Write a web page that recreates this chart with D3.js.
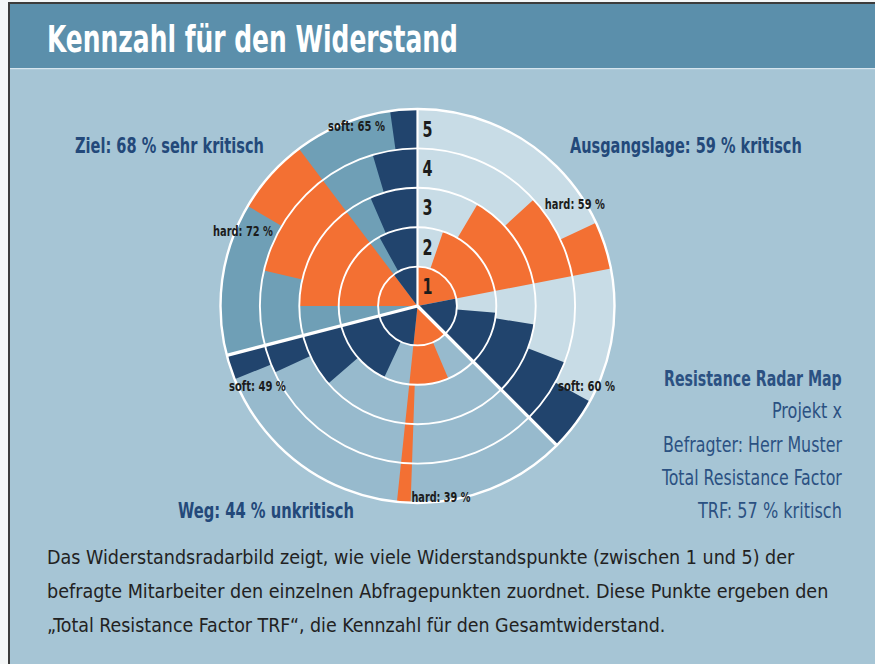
<!DOCTYPE html>
<html>
<head>
<meta charset="utf-8">
<script src="https://cdn.jsdelivr.net/npm/d3@7"></script>
<style>
  html, body { margin: 0; padding: 0; background: #ffffff; }
  svg { display: block; }
  text { font-family: "Liberation Sans Narrow", "DejaVu Sans Condensed", "Roboto", sans-serif; }
</style>
</head>
<body>
<svg id="chart" width="875" height="664"></svg>
<script>
// Survey phases around the radar, clockwise from twelve o'clock
const phases = ["Ausgangslage", "Weg", "Ziel"];
const phaseTitles = ["Ausgangslage: 59 % kritisch", "Weg: 44 % unkritisch", "Ziel: 68 % sehr kritisch"];

// Resistance points (1–5) per question and the share of the circle (degrees) each question takes
const hardScores  = [[1, 2, 3, 4, 5], [1, 2, 5], [3, 4, 5]];
const hardWeights = [[19, 11.5, 17, 17.5, 14], [22, 25, 4], [13, 17.5, 22.5]];
const softScores  = [[1, 2, 3, 4, 5], [1, 2, 3, 4, 5], [1, 2, 3, 4, 5]];
const softWeights = [[16, 4, 12, 8, 16], [19, 24, 16, 3.2, 7.3], [8, 5.5, 7, 8.5, 8]];
// Unscored share in front of a phase's hard block
const openWeights = [0, 0, 14.5];

const hardPercent = [59, 39, 72];
const softPercent = [60, 49, 65];
const scoreTicks  = [1, 2, 3, 4, 5];

const infoLines = ["Resistance Radar Map", "Projekt x", "Befragter: Herr Muster",
                   "Total Resistance Factor", "TRF: 57 % kritisch"];
const bodyLines = [
  "Das Widerstandsradarbild zeigt, wie viele Widerstandspunkte (zwischen 1 und 5) der",
  "befragte Mitarbeiter den einzelnen Abfragepunkten zuordnet. Diese Punkte ergeben den",
  "\u201eTotal Resistance Factor TRF\u201c, die Kennzahl f\u00fcr den Gesamtwiderstand."
];

// ---- styling ----
const C = {
  page: "#a6c5d5", header: "#5b8fab", frame: "#3c3c3c",
  phaseFill: ["#c8dce6", "#97bacd", "#6f9fb6"],
  hard: "#f37033", soft: "#21446d",
  title: "#23497a", info: "#2b5182", ink: "#1c1c1c"
};

const svg = d3.select("#chart");
const W = 875, H = 664;

// Writes a line of text whose left edge sits at x (or right edge, for anchor "end"),
// squeezed horizontally to the given width so the condensed look is kept.
function label(parent, { x, y, text, size, weight = "normal", fill, width, anchor = "start", dy = null }) {
  const t = parent.append("text")
    .attr("font-size", size).attr("font-weight", weight).attr("fill", fill)
    .text(text);
  if (dy) t.attr("dy", dy);
  const natural = t.node().getComputedTextLength();
  const sx = width / natural;
  const left = anchor === "end" ? x - width : anchor === "middle" ? x - width / 2 : x;
  t.attr("transform", `translate(${left},${y}) scale(${sx},1)`);
  return t;
}

// page, frame and header band
svg.append("rect").attr("x", 0).attr("y", 0).attr("width", W).attr("height", H).attr("fill", "#f4f6f7");
svg.append("rect").attr("x", 8).attr("y", 2).attr("width", W - 8).attr("height", H - 2).attr("fill", C.frame);
svg.append("rect").attr("x", 10).attr("y", 4).attr("width", W - 10).attr("height", H - 4).attr("fill", C.page);
svg.append("rect").attr("x", 10).attr("y", 4).attr("width", W - 10).attr("height", 64).attr("fill", C.header);
svg.append("rect").attr("x", 10).attr("y", 68).attr("width", W - 10).attr("height", 1.2).attr("fill", "#d6e5ee");
label(svg, { x: 47, y: 52, text: "Kennzahl f\u00fcr den Widerstand", size: 37, weight: "bold", fill: "#ffffff", width: 411 });

// ---- radar ----
const cx = 417.5, cy = 306, R = 197;
const rScale = d3.scaleLinear().domain([0, 5]).range([0, R]);

const totalWeight = d3.sum(phases.map((p, i) =>
  openWeights[i] + d3.sum(hardWeights[i]) + d3.sum(softWeights[i])));
const angle = d3.scaleLinear().domain([0, totalWeight]).range([0, 2 * Math.PI]);

// lay the questions out around the circle; each factor block becomes one stepped shape
const phaseSpans = [];
const blocks = [];
let cursor = 0;
phases.forEach((p, i) => {
  const start = cursor;
  cursor += openWeights[i];
  [["hard", hardScores[i], hardWeights[i]], ["soft", softScores[i], softWeights[i]]].forEach(([factor, scores, weights]) => {
    const steps = scores.map((s, k) => {
      const a0 = cursor;
      cursor += weights[k];
      return { score: s, a0, a1: cursor };
    });
    blocks.push({ phase: p, factor, steps });
  });
  phaseSpans.push({ phase: p, index: i, start, end: cursor });
});

const g = svg.append("g").attr("transform", `translate(${cx},${cy})`);

const arc = d3.arc();
g.selectAll("path.phase").data(phaseSpans).join("path")
  .attr("class", "phase")
  .attr("d", d => arc({ innerRadius: 0, outerRadius: R, startAngle: angle(d.start), endAngle: angle(d.end) }))
  .attr("fill", d => C.phaseFill[d.index]);

// one closed outline per block: out from the centre, along each question's arc, back in
function blockPath(steps) {
  const p = d3.path();
  p.moveTo(0, 0);
  steps.forEach(s => {
    p.arc(0, 0, rScale(s.score), angle(s.a0) - Math.PI / 2, angle(s.a1) - Math.PI / 2);
  });
  p.closePath();
  return p.toString();
}

g.selectAll("path.block").data(blocks).join("path")
  .attr("class", "block")
  .attr("d", d => blockPath(d.steps))
  .attr("fill", d => d.factor === "hard" ? C.hard : C.soft);

// score rings
g.selectAll("circle.ring").data(scoreTicks).join("circle")
  .attr("class", "ring")
  .attr("r", d => rScale(d))
  .attr("fill", "none")
  .attr("stroke", "#ffffff")
  .attr("stroke-width", d => d === 5 ? 2.4 : 1.9);

// phase dividers
const polar = (a, r) => [Math.sin(a) * r, -Math.cos(a) * r];
g.selectAll("line.divider").data(phaseSpans).join("line")
  .attr("class", "divider")
  .attr("x1", 0).attr("y1", 0)
  .attr("x2", d => polar(angle(d.start), R)[0])
  .attr("y2", d => polar(angle(d.start), R)[1])
  .attr("stroke", "#ffffff")
  .attr("stroke-width", d => d.index === 0 ? 2.2 : 3.3);

// score tick labels along the twelve o'clock axis
scoreTicks.forEach(d => {
  label(g, { x: 5, y: -rScale(d - 0.5), dy: "0.36em", text: String(d), size: 22, weight: "bold", fill: C.ink, width: 10 });
});

// hard / soft percentages at the rim of each block
const pctLabels = [
  { text: `hard: ${hardPercent[0]} %`, deg: 57,    r: 187.6, w: 60 },
  { text: `soft: ${softPercent[0]} %`, deg: 115.3, r: 187,   w: 57 },
  { text: `hard: ${hardPercent[1]} %`, deg: 173,   r: 192.4, w: 59 },
  { text: `soft: ${softPercent[1]} %`, deg: 243.4, r: 179,   w: 57 },
  { text: `hard: ${hardPercent[2]} %`, deg: 293.3, r: 190,   w: 60 },
  { text: `soft: ${softPercent[2]} %`, deg: 341.3, r: 190,   w: 57 }
];
pctLabels.forEach(l => {
  const [x, y] = polar(l.deg * Math.PI / 180, l.r);
  label(g, { x, y, dy: "0.36em", anchor: "middle", text: l.text, size: 14, weight: "bold", fill: C.ink, width: l.w });
});

// phase titles
const titlePos = [
  { x: 570, y: 153, anchor: "start", w: 232 },
  { x: 354, y: 518, anchor: "end",   w: 176 },
  { x: 264, y: 153, anchor: "end",   w: 189 }
];
phaseTitles.forEach((t, i) => {
  label(svg, { x: titlePos[i].x, y: titlePos[i].y, anchor: titlePos[i].anchor, text: t,
               size: 21, weight: "bold", fill: C.title, width: titlePos[i].w });
});

// info block
const infoW = [178, 70, 179, 180, 144];
const infoY = [386, 418, 452, 485, 518];
infoLines.forEach((t, i) => {
  label(svg, { x: 842, y: infoY[i], anchor: "end", text: t, size: 22,
               weight: i === 0 ? "bold" : "normal", fill: C.info, width: infoW[i] });
});

// explanatory text
const bodyW = [748, 782, 619];
bodyLines.forEach((t, i) => {
  label(svg, { x: 47, y: 564 + i * 34, text: t, size: 20, fill: "#222222", width: bodyW[i] });
});
</script>
</body>
</html>
